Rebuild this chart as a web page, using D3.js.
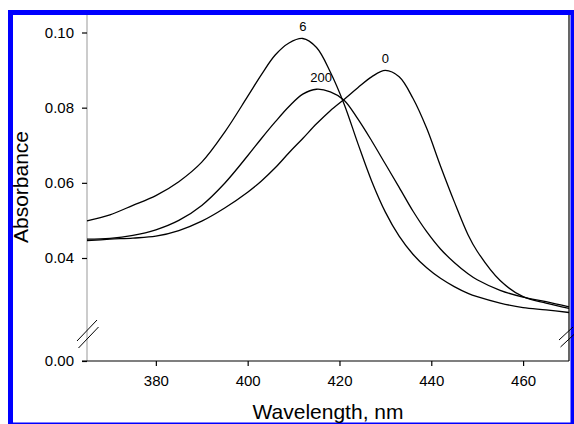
<!DOCTYPE html>
<html>
<head>
<meta charset="utf-8">
<script src="https://cdn.jsdelivr.net/npm/d3@7"></script>
<style>
  html, body { margin: 0; padding: 0; background: #fff; }
  svg { display: block; }
  text { font-family: "Liberation Sans", Arial, sans-serif; fill: #000; }
</style>
</head>
<body>
<svg id="chart" width="574" height="424"></svg>
<script>
// ---- data ----
const wavelengths = [365, 370, 375, 380, 385, 390, 395, 400, 403, 406, 409, 412, 415, 418, 421, 424, 427, 430, 433, 436, 439, 442, 445, 448, 450, 455, 460, 465, 470];
const series6   = [0.0499, 0.0515, 0.0540, 0.0566, 0.0603, 0.0655, 0.0735, 0.0830, 0.0888, 0.0940, 0.0972, 0.0984, 0.0960, 0.0895, 0.0810, 0.0705, 0.0605, 0.0522, 0.0458, 0.0410, 0.0374, 0.0346, 0.0324, 0.0306, 0.0297, 0.0280, 0.0268, 0.0262, 0.0255];
const series200 = [0.0450, 0.0452, 0.0460, 0.0475, 0.0500, 0.0540, 0.0599, 0.0672, 0.0718, 0.0762, 0.0803, 0.0836, 0.0849, 0.0842, 0.0820, 0.0770, 0.0712, 0.0650, 0.0588, 0.0525, 0.0470, 0.0424, 0.0388, 0.0358, 0.0342, 0.0314, 0.0296, 0.0284, 0.0270];
const series0   = [0.0446, 0.0450, 0.0453, 0.0458, 0.0473, 0.0498, 0.0533, 0.0575, 0.0605, 0.0640, 0.0680, 0.0718, 0.0757, 0.0792, 0.0822, 0.0853, 0.0882, 0.0899, 0.0882, 0.0825, 0.0745, 0.0645, 0.0550, 0.0462, 0.0418, 0.0340, 0.0297, 0.0280, 0.0266];
const seriesNames = ["6", "200", "0"];
const labelPositions = [[412, 0.1005], [416, 0.0867], [430, 0.0918]]; // [wavelength, absorbance] where each curve label sits
const xTicks = [380, 400, 420, 440, 460];
const yTicksUpper = [0.04, 0.06, 0.08, 0.10];
const yTicksLower = [0.00];

// ---- layout ----
const svg = d3.select("#chart");
const x = d3.scaleLinear().domain([365, 470]).range([87, 569]);
const y = d3.scaleLinear().domain([0.04, 0.10]).range([258, 32.5]);
const yLow = d3.scaleLinear().domain([0, 0.01]).range([361, 323]);

// blue frame
svg.append("rect").attr("x", 8).attr("y", 10).attr("width", 566).attr("height", 5).attr("fill", "#0000ff");
svg.append("rect").attr("x", 8).attr("y", 10).attr("width", 5).attr("height", 414).attr("fill", "#0000ff");
svg.append("rect").attr("x", 570.5).attr("y", 10).attr("width", 3.5).attr("height", 414).attr("fill", "#0000ff");
svg.append("rect").attr("x", 8).attr("y", 422.5).attr("width", 566).attr("height", 1.5).attr("fill", "#0000ff");

// left axis line (gray)
svg.append("line").attr("x1", 87).attr("x2", 87).attr("y1", 15).attr("y2", 361)
  .attr("stroke", "#999").attr("stroke-width", 1);
// right frame line
svg.append("line").attr("x1", 569).attr("x2", 569).attr("y1", 15).attr("y2", 361)
  .attr("stroke", "#000").attr("stroke-width", 1.2);

// y axis upper
const yAxis = d3.axisLeft(y).tickValues(yTicksUpper).tickFormat(d3.format(".2f")).tickSize(5).tickPadding(8);
const gy = svg.append("g").attr("transform", "translate(87,0)").call(yAxis);
gy.select(".domain").remove();
gy.selectAll(".tick line").attr("stroke", "#000").attr("stroke-width", 1.2);
gy.selectAll(".tick text").attr("font-size", 15).attr("font-family", "Liberation Sans, Arial, sans-serif");

// y axis lower (0.00)
const yAxisLow = d3.axisLeft(yLow).tickValues(yTicksLower).tickFormat(d3.format(".2f")).tickSize(5).tickPadding(8);
const gyl = svg.append("g").attr("transform", "translate(87,0)").call(yAxisLow);
gyl.select(".domain").remove();
gyl.selectAll(".tick line").attr("stroke", "#000").attr("stroke-width", 1.2);
gyl.selectAll(".tick text").attr("font-size", 15).attr("font-family", "Liberation Sans, Arial, sans-serif");

// x axis
const xAxis = d3.axisBottom(x).tickValues(xTicks).tickFormat(d3.format("d")).tickSize(5).tickPadding(9);
const gx = svg.append("g").attr("transform", "translate(0,361)").call(xAxis);
gx.select(".domain").remove();
gx.selectAll(".tick line").attr("stroke", "#000").attr("stroke-width", 1.2);
gx.selectAll(".tick text").attr("font-size", 15).attr("font-family", "Liberation Sans, Arial, sans-serif");
svg.append("line").attr("x1", 82).attr("x2", 569).attr("y1", 361).attr("y2", 361)
  .attr("stroke", "#000").attr("stroke-width", 1.2);

// axis break marks
function breakMarks(cx, cy, w, h) {
  const gap = 7;
  [[0, 0], [1.5, gap]].forEach(([dx, dy]) => {
    svg.append("line")
      .attr("x1", cx - w / 2 + dx).attr("y1", cy + h / 2 + dy - gap / 2)
      .attr("x2", cx + w / 2 + dx).attr("y2", cy - h / 2 + dy - gap / 2)
      .attr("stroke", "#000").attr("stroke-width", 1);
  });
}
breakMarks(87, 334, 20, 21);
breakMarks(566, 337, 14, 13);

// curves
const allSeries = [series6, series200, series0];
const line = d3.line().x(d => x(d[0])).y(d => y(d[1])).curve(d3.curveCatmullRom.alpha(0.5));
allSeries.forEach(vals => {
  svg.append("path")
    .datum(wavelengths.map((w, i) => [w, vals[i]]))
    .attr("d", line)
    .attr("fill", "none")
    .attr("stroke", "#000")
    .attr("stroke-width", 1.3);
});

// curve labels
seriesNames.forEach((name, i) => {
  svg.append("text")
    .attr("x", x(labelPositions[i][0]))
    .attr("y", y(labelPositions[i][1]))
    .attr("text-anchor", "middle")
    .attr("font-size", 13)
    .text(name);
});

// axis titles
svg.append("text").attr("x", 328).attr("y", 419).attr("text-anchor", "middle")
  .attr("font-size", 21).text("Wavelength, nm");
svg.append("text").attr("transform", "translate(28,187) rotate(-90)").attr("text-anchor", "middle")
  .attr("font-size", 21).text("Absorbance");
</script>
</body>
</html>
